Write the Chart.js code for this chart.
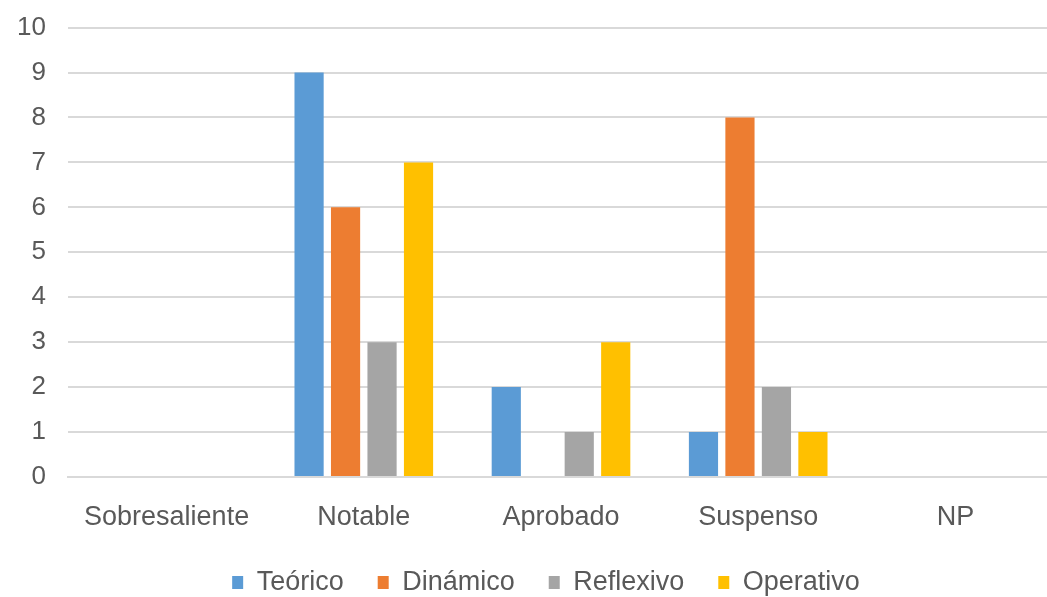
<!DOCTYPE html>
<html><head><meta charset="utf-8">
<script src="https://cdn.jsdelivr.net/npm/chart.js@4/dist/chart.umd.min.js"></script>
<style>
html,body{margin:0;padding:0;background:#fff;overflow:hidden}
#wrap{width:1047px;height:597px;overflow:hidden;position:relative}
#box{position:absolute;left:0;top:-10px;width:1092px;height:616px}
</style></head>
<body><div id="wrap"><div id="box"><canvas id="c"></canvas></div></div>
<script>
const categories = ["Sobresaliente", "Notable", "Aprobado", "Suspenso", "NP"];
const teorico   = [0, 9, 2, 1, 0];
const dinamico  = [0, 6, 0, 8, 0];
const reflexivo = [0, 3, 1, 2, 0];
const operativo = [0, 7, 3, 1, 0];
const seriesNames = ["Teórico", "Dinámico", "Reflexivo", "Operativo"];
const seriesColors = ["#5B9BD5", "#ED7D31", "#A5A5A5", "#FFC000"];
const yMin = 0, yMax = 10, yStep = 1;

const FONT = "'Liberation Sans', Arial, sans-serif";
const TXT = "#595959";
const GRID = "#d9d9d9";

const legendShift = {
  id: 'legendShift',
  afterLayout(chart) {
    if (chart.legend) { chart.legend.right += 38; }
  }
};

const values = [teorico, dinamico, reflexivo, operativo];
new Chart(document.getElementById('c'), {
  type: 'bar',
  data: {
    labels: categories,
    datasets: values.map((v, i) => ({
      label: seriesNames[i],
      data: v,
      backgroundColor: seriesColors[i],
      borderWidth: 0,
      categoryPercentage: 0.74,
      barPercentage: 0.8
    }))
  },
  plugins: [legendShift],
  options: {
    responsive: true,
    maintainAspectRatio: false,
    animation: false,
    layout: { padding: { top: 7, right: 38, bottom: 0, left: 0 } },
    plugins: {
      tooltip: { enabled: false },
      legend: {
        position: 'bottom',
        labels: {
          color: TXT,
          font: { family: FONT, size: 27 },
          boxWidth: 11, boxHeight: 13,
          padding: 34
        }
      }
    },
    scales: {
      x: {
        grid: { display: false, drawTicks: false },
        border: { display: true, color: GRID, width: 2 },
        ticks: { color: TXT, font: { family: FONT, size: 27 }, padding: 24, maxRotation: 0 },
        afterFit: s => { s.height = 58; }
      },
      y: {
        min: yMin, max: yMax,
        grid: { color: GRID, lineWidth: 2, drawTicks: false },
        border: { display: false },
        ticks: { stepSize: yStep, color: TXT, font: { family: FONT, size: 26 }, padding: 22 },
        afterFit: s => { s.width = 68; }
      }
    }
  }
});
</script>
</body></html>
